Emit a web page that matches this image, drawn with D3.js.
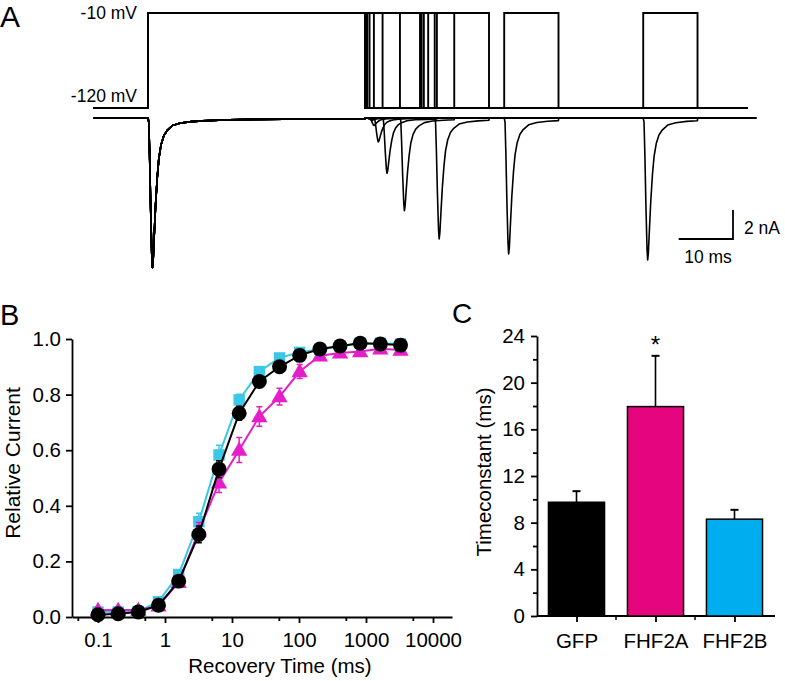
<!DOCTYPE html>
<html><head><meta charset="utf-8">
<script src="https://cdn.jsdelivr.net/npm/d3@7"></script>
<style>
body{margin:0;background:#fff}
svg{display:block;background:#fff}
text{font-family:"Liberation Sans",Arial,Helvetica,sans-serif;fill:#000}
</style>
</head><body>
<svg id="chart" width="785" height="681"></svg>
<script>
// ---------- Panel A data (voltage protocol & current traces) ----------
const recoveryIntervalsA = [0.1, 0.2, 0.4, 0.8, 1.6, 3.2, 6.4, 12.8, 25.6, 51.2]; // ms
const testPeakFraction   = [0.005, 0.008, 0.015, 0.05, 0.16, 0.37, 0.62, 0.81, 0.91, 0.95];
const holdingPotential = -120;   // mV
const stepPotential = -10;       // mV
const prepulseDuration = 40;     // ms
const testDuration = 10;         // ms
const sweepWindowV = [-10, 110.4];
const sweepWindowI = [-10, 112];
const prepulsePeak = -10.3;      // nA
const templateT = [0, 0.15, 0.3, 0.5, 0.7, 0.82, 0.95, 1.15, 1.4, 1.7, 2.0, 2.4, 2.9, 3.5, 4.5, 6, 8, 10, 15, 20, 30, 40];
const templateI = [0, 0.03, 0.25, 0.62, 0.92, 1, 0.95, 0.78, 0.58, 0.4, 0.27, 0.18, 0.12, 0.085, 0.05, 0.033, 0.024, 0.019, 0.012, 0.009, 0.006, 0.004];
const voltageLabels = ["-10 mV", "-120 mV"];
const scaleBarTime = 10, scaleBarCurrent = 2;

// ---------- Panel B data ----------
const recoveryTimes = [0.1, 0.2, 0.4, 0.8, 1.6, 3.2, 6.4, 12.8, 25.6, 51.2, 102.4, 204.8, 409.6, 819.2, 1638.4, 3276.8];
const gfpB    = [0.008, 0.012, 0.018, 0.042, 0.129, 0.297, 0.532, 0.733, 0.847, 0.900, 0.941, 0.964, 0.975, 0.985, 0.982, 0.978];
const gfpErrB = [0.005, 0.005, 0.005, 0.008, 0.015, 0.03, 0.03, 0.025, 0.015, 0.012, 0.01, 0.008, 0.006, 0.006, 0.006, 0.006];
const fhf2bB    = [0.018, 0.018, 0.02, 0.055, 0.153, 0.343, 0.583, 0.781, 0.883, 0.932, 0.952, 0.962, 0.974, 0.985, 0.985, 0.982];
const fhf2bErrB = [0.005, 0.005, 0.005, 0.01, 0.015, 0.03, 0.035, 0.02, 0.015, 0.01, 0.008, 0.006, 0.005, 0.005, 0.005, 0.005];
const fhf2aB    = [0.025, 0.025, 0.025, 0.04, 0.125, 0.31, 0.483, 0.601, 0.721, 0.793, 0.883, 0.94, 0.95, 0.955, 0.965, 0.96];
const fhf2aErrB = [0.008, 0.008, 0.008, 0.01, 0.015, 0.03, 0.035, 0.045, 0.035, 0.03, 0.025, 0.015, 0.012, 0.012, 0.01, 0.01];
const xTicksB = [0.1, 1, 10, 100, 1000, 10000];
const xMinorB = [0.05, 0.5, 5, 50, 500, 5000];
const yTicksB = [0, 0.2, 0.4, 0.6, 0.8, 1.0];

// ---------- Panel C data ----------
const groupsC = ["GFP", "FHF2A", "FHF2B"];
const tauC    = [9.75, 17.95, 8.3];
const tauErrC = [0.95, 4.35, 0.8];
const yTicksC = [0, 4, 8, 12, 16, 20, 24];
const yMinorC = [2, 6, 10, 14, 18, 22];
const colorsC = ["#000000", "#e5057f", "#00aeef"];

const svg = d3.select("#chart");
const FONT = '"Liberation Sans",Arial,Helvetica,sans-serif';

// ================= Panel A =================
const xA = d3.scaleLinear().domain([0, prepulseDuration]).range([148, 365.2]);
const yV = d3.scaleLinear().domain([holdingPotential, stepPotential]).range([108, 13]);
const yI = d3.scaleLinear().domain([0, -10]).range([118, 263]);
const gA = svg.append("g");

const lineV = d3.line().x(d => xA(d[0])).y(d => yV(d[1]));
const lineI = d3.line().x(d => xA(d[0])).y(d => yI(d[1]));

recoveryIntervalsA.forEach((d, k) => {
  const P = prepulseDuration, T = testDuration, H = holdingPotential, S = stepPotential;
  const vPts = [[sweepWindowV[0], H], [0, H], [0, S], [P, S], [P, H], [P + d, H], [P + d, S], [P + d + T, S], [P + d + T, H], [sweepWindowV[1], H]];
  gA.append("path").attr("d", lineV(vPts)).attr("fill", "none").attr("stroke", "#000").attr("stroke-width", 1.9);

  const iPts = [[sweepWindowI[0], 0]];
  templateT.forEach((t, j) => iPts.push([t, templateI[j] * prepulsePeak]));
  iPts.push([P, 0]);
  iPts.push([P + d, 0]);
  templateT.forEach((t, j) => { if (t <= T) iPts.push([P + d + t, templateI[j] * prepulsePeak * testPeakFraction[k]]); });
  iPts.push([P + d + T, 0]);
  iPts.push([sweepWindowI[1], 0]);
  gA.append("path").attr("d", lineI(iPts)).attr("fill", "none").attr("stroke", "#000").attr("stroke-width", 1.6).attr("stroke-linejoin", "round");
});

gA.append("text").attr("x", 137).attr("y", 19).attr("text-anchor", "end").attr("font-size", 17.5).text(voltageLabels[0]);
gA.append("text").attr("x", 137).attr("y", 102).attr("text-anchor", "end").attr("font-size", 17.5).text(voltageLabels[1]);
gA.append("text").attr("x", 0).attr("y", 27).attr("font-size", 30).text("A");

// scale bar
const sbX = 733, sbY = 239;
const sbW = xA(scaleBarTime) - xA(0), sbH = yI(-scaleBarCurrent) - yI(0);
gA.append("path").attr("d", `M${sbX - sbW},${sbY}H${sbX}V${sbY - sbH}`).attr("fill", "none").attr("stroke", "#000").attr("stroke-width", 1.8);
gA.append("text").attr("x", 744).attr("y", 234).attr("font-size", 17.5).text(scaleBarCurrent + " nA");
gA.append("text").attr("x", 708).attr("y", 263).attr("text-anchor", "middle").attr("font-size", 17.5).text(scaleBarTime + " ms");

// ================= Panel B =================
const xBase = d3.scaleLog().domain([0.1, 10000]).range([98, 433]);
const xB = d3.scaleLog().domain([xBase.invert(72), xBase.invert(452)]).range([72, 452]);
const yB = d3.scaleLinear().domain([0, 1]).range([617, 339]);
const gB = svg.append("g");

const axB = gB.append("g").attr("transform", "translate(0,617)")
  .call(d3.axisBottom(xB).tickValues(xTicksB).tickFormat(d => String(d)).tickSize(6).tickSizeOuter(0).tickPadding(9));
const axBm = gB.append("g").attr("transform", "translate(0,617)")
  .call(d3.axisBottom(xB).tickValues(xMinorB).tickFormat("").tickSize(4).tickSizeOuter(0));
axBm.select(".domain").remove();
const ayB = gB.append("g").attr("transform", "translate(72,0)")
  .call(d3.axisLeft(yB).tickValues(yTicksB).tickFormat(d3.format(".1f")).tickSize(6).tickSizeOuter(0).tickPadding(5));
[axB, axBm, ayB].forEach(a => {
  a.selectAll("path,line").attr("stroke", "#000").attr("stroke-width", 1.8);
  a.selectAll("text").attr("font-size", 20.5).attr("font-family", FONT).attr("fill", "#000");
});

function drawSeries(vals, errs, color, shape, r) {
  const g = gB.append("g");
  const pts = recoveryTimes.map((t, i) => [t, vals[i], errs[i]]);
  pts.forEach(p => {
    const x = xB(p[0]);
    g.append("path").attr("d", `M${x},${yB(p[1] - p[2])}V${yB(p[1] + p[2])}M${x - 3},${yB(p[1] - p[2])}h6M${x - 3},${yB(p[1] + p[2])}h6`)
      .attr("stroke", color).attr("stroke-width", 1.5).attr("fill", "none");
  });
  g.append("path").attr("d", d3.line().x(d => xB(d[0])).y(d => yB(d[1]))(pts))
    .attr("fill", "none").attr("stroke", color).attr("stroke-width", 2);
  const sym = d3.symbol().type(shape).size(r);
  g.selectAll(".m").data(pts).join("path")
    .attr("transform", d => `translate(${xB(d[0])},${yB(d[1]) + (shape === d3.symbolTriangle ? 1 : 0)})`)
    .attr("d", sym).attr("fill", color);
}
drawSeries(fhf2bB, fhf2bErrB, "#3dc7e6", d3.symbolSquare, 130);
drawSeries(fhf2aB, fhf2aErrB, "#e41ec8", d3.symbolTriangle, 115);
drawSeries(gfpB, gfpErrB, "#000000", d3.symbolCircle, 175);

gB.append("text").attr("transform", "translate(20,463) rotate(-90)").attr("text-anchor", "middle").attr("font-size", 21).text("Relative Current");
gB.append("text").attr("x", 280).attr("y", 673).attr("text-anchor", "middle").attr("font-size", 20.5).text("Recovery Time (ms)");
gB.append("text").attr("x", 0).attr("y", 325).attr("font-size", 29).text("B");

// ================= Panel C =================
const xC = d3.scaleBand().domain(groupsC).range([537, 774]).paddingInner(0.29).paddingOuter(0.145);
const yC = d3.scaleLinear().domain([0, 24]).range([616, 336]);
const gC = svg.append("g");

const ayC = gC.append("g").attr("transform", "translate(537,0)")
  .call(d3.axisLeft(yC).tickValues(yTicksC).tickFormat(d3.format("d")).tickSize(6).tickSizeOuter(0).tickPadding(6));
const ayCm = gC.append("g").attr("transform", "translate(537,0)")
  .call(d3.axisLeft(yC).tickValues(yMinorC).tickFormat("").tickSize(4).tickSizeOuter(0));
ayCm.select(".domain").remove();
const axC = gC.append("g").attr("transform", "translate(0,616)")
  .call(d3.axisBottom(d3.scalePoint().domain(groupsC).range([xC("GFP") + xC.bandwidth() / 2, xC("FHF2B") + xC.bandwidth() / 2])).tickSize(6).tickSizeOuter(0).tickPadding(11));
axC.select(".domain").remove();
gC.append("line").attr("x1", 537).attr("x2", 775).attr("y1", 616).attr("y2", 616).attr("stroke", "#000").attr("stroke-width", 1.8);
groupsC.slice(1).forEach(g => {
  const x = xC(g) - xC.step() * xC.paddingInner() / 2;
  gC.append("line").attr("x1", x).attr("x2", x).attr("y1", 616).attr("y2", 620).attr("stroke", "#000").attr("stroke-width", 1.5);
});
[ayC, ayCm, axC].forEach(a => {
  a.selectAll("path,line").attr("stroke", "#000").attr("stroke-width", 1.8);
  a.selectAll("text").attr("font-size", 20.5).attr("font-family", FONT).attr("fill", "#000");
});

groupsC.forEach((g, i) => {
  const x = xC(g), w = xC.bandwidth(), cx = x + w / 2;
  gC.append("line").attr("x1", cx).attr("x2", cx).attr("y1", yC(tauC[i])).attr("y2", yC(tauC[i] + tauErrC[i])).attr("stroke", "#000").attr("stroke-width", 1.6);
  gC.append("line").attr("x1", cx - 4).attr("x2", cx + 4).attr("y1", yC(tauC[i] + tauErrC[i])).attr("y2", yC(tauC[i] + tauErrC[i])).attr("stroke", "#000").attr("stroke-width", 2);
  gC.append("rect").attr("x", x).attr("y", yC(tauC[i])).attr("width", w).attr("height", yC(0) - yC(tauC[i]))
    .attr("fill", colorsC[i]).attr("stroke", "#000").attr("stroke-width", 1.5);
});
gC.append("text").attr("x", xC("FHF2A") + xC.bandwidth() / 2).attr("y", 353).attr("text-anchor", "middle").attr("font-size", 24).text("*");
gC.append("text").attr("transform", "translate(491,472) rotate(-90)").attr("text-anchor", "middle").attr("font-size", 20.5).text("Timeconstant (ms)");
gC.append("text").attr("x", 452).attr("y", 323).attr("font-size", 28).text("C");
</script>
</body></html>
